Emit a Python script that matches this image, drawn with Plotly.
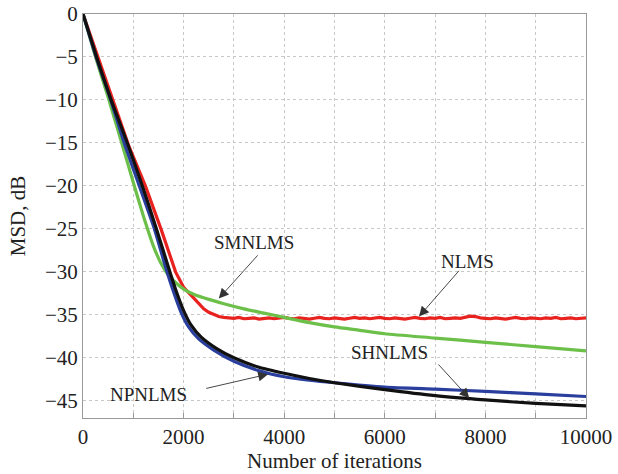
import plotly.graph_objects as go

# ---- data ----
nlms_x = [0, 300, 600, 920, 1240, 1550, 1840, 2000, 2180, 2300, 2400, 2500, 2600, 2700,
          2800, 2900, 3000, 3100, 3200, 3300, 3400, 3500, 3600, 3700, 3800, 3900,
          4000, 4100, 4200, 4300, 4400, 4500, 4600, 4700, 4800, 4900,
          5000, 5100, 5200, 5300, 5400, 5500, 5600, 5700, 5800, 5900,
          6000, 6100, 6200, 6300, 6400, 6500, 6600, 6700, 6800, 6900,
          7000, 7100, 7200, 7300, 7400, 7500, 7600, 7700, 7800, 7900,
          8000, 8100, 8200, 8300, 8400, 8500, 8600, 8700, 8800, 8900,
          9000, 9100, 9200, 9300, 9400, 9500, 9600, 9700, 9800, 9900, 10000]
nlms_y = [0, -5, -10, -15.5, -20, -25, -30, -31.8, -32.9, -33.7, -34.3, -34.7, -35.0, -35.2,
          -35.3, -35.35, -35.4, -35.3, -35.45, -35.4, -35.35, -35.5, -35.4, -35.35, -35.45, -35.4,
          -35.3, -35.4, -35.45, -35.35, -35.4, -35.5, -35.4, -35.3, -35.4, -35.45,
          -35.35, -35.4, -35.5, -35.4, -35.3, -35.4, -35.35, -35.45, -35.4, -35.3,
          -35.4, -35.45, -35.35, -35.4, -35.5, -35.4, -35.3, -35.4, -35.45, -35.35,
          -35.4, -35.3, -35.45, -35.4, -35.35, -35.4, -35.25, -35.15, -35.2, -35.35,
          -35.4, -35.45, -35.35, -35.4, -35.5, -35.4, -35.3, -35.4, -35.45, -35.35,
          -35.4, -35.45, -35.35, -35.4, -35.3, -35.45, -35.4, -35.35, -35.45, -35.4, -35.35]

smnlms_x = [0, 250, 500, 750, 1000, 1200, 1400, 1550, 1700, 1850, 2000, 2200, 2500,
            2800, 3200, 3600, 4000, 4500, 5000, 5500, 6000, 7000, 8000, 9000, 10000]
smnlms_y = [0, -5, -9.7, -14.6, -19.6, -23.5, -27.0, -29.0, -30.4, -31.3, -32.0, -32.6, -33.2,
            -33.7, -34.3, -34.8, -35.3, -35.9, -36.4, -36.8, -37.2, -37.7, -38.2, -38.7, -39.2]

npnlms_x = [0, 260, 550, 820, 1120, 1420, 1650, 1800, 1950, 2100, 2300, 2600, 3000,
            3500, 4000, 4500, 5000, 6000, 7000, 8000, 9000, 10000]
npnlms_y = [0, -5, -10, -15, -20, -25, -29.6, -32.3, -34.7, -36.4, -37.8, -39.1, -40.4,
            -41.5, -42.2, -42.6, -42.9, -43.4, -43.65, -43.9, -44.2, -44.5]

shnlms_x = [0, 270, 560, 880, 1180, 1460, 1700, 1850, 2000, 2150, 2350, 2650, 3000,
            3500, 4000, 4500, 5000, 6000, 7000, 8000, 9000, 10000]
shnlms_y = [0, -5, -10, -15, -20, -25, -29.5, -32.2, -34.5, -36.2, -37.6, -38.9, -40.0,
            -41.1, -41.8, -42.4, -42.9, -43.7, -44.4, -44.9, -45.3, -45.6]

x_ticks = [0, 2000, 4000, 6000, 8000, 10000]
y_ticks = [0, -5, -10, -15, -20, -25, -30, -35, -40, -45]

FONT = "Liberation Serif, Times New Roman, serif"

fig = go.Figure()
series = [
    ("NLMS", nlms_x, nlms_y, "#e8221f", "linear"),
    ("SMNLMS", smnlms_x, smnlms_y, "#6cc04a", "spline"),
    ("NPNLMS", npnlms_x, npnlms_y, "#2a3f9d", "spline"),
    ("SHNLMS", shnlms_x, shnlms_y, "#111111", "spline"),
]
for name, xs, ys, col, shp in series:
    line = dict(color=col, width=3.2, shape=shp)
    if shp == "spline":
        line["smoothing"] = 0.6
    fig.add_trace(go.Scatter(x=xs, y=ys, mode="lines", name=name, line=line))

# labels + arrows (text position, arrow tail, arrow tip)
labels = [
    ("SMNLMS", 3400, -26.6, 3500, -27.9, 2700, -33.1),
    ("NLMS", 7640, -28.8, 7500, -29.7, 6680, -35.2),
    ("SHNLMS", 6100, -39.4, 7040, -40.6, 7680, -44.7),
    ("NPNLMS", 1300, -44.3, 2420, -43.6, 3680, -41.9),
]
for txt, tx, ty, ax, ay, hx, hy in labels:
    fig.add_annotation(x=tx, y=ty, text=txt, showarrow=False,
                       font=dict(family=FONT, size=19, color="#222"))
    fig.add_annotation(x=hx, y=hy, ax=ax, ay=ay, axref="x", ayref="y",
                       text="", showarrow=True, arrowhead=2, arrowsize=2.2,
                       arrowwidth=0.9, arrowcolor="#333")

fig.update_layout(
    width=618, height=474,
    margin=dict(l=83, r=32, t=14, b=56, autoexpand=False),
    paper_bgcolor="white", plot_bgcolor="white",
    showlegend=False,
    font=dict(family=FONT, size=21, color="#222"),
)
fig.update_xaxes(
    range=[0, 10000], tickvals=x_ticks, ticktext=[str(v) for v in x_ticks],
    showgrid=True, gridcolor="#c8c8c8", griddash="dot", gridwidth=1,
    minor=dict(dtick=1000, showgrid=True, gridcolor="#c8c8c8", griddash="dot",
               ticks="inside", ticklen=5, tickcolor="#999"),
    ticks="inside", ticklen=5, tickcolor="#999",
    showline=True, linecolor="#999", linewidth=1, mirror=True,
    zeroline=False, automargin=False,
    title=dict(text="Number of iterations", font=dict(size=21), standoff=0),
    tickfont=dict(size=21),
)
fig.update_yaxes(
    range=[-47, 0], tickvals=y_ticks, ticktext=[("\u2212" + str(-v)) if v < 0 else "0" for v in y_ticks],
    showgrid=True, gridcolor="#c8c8c8", griddash="dot", gridwidth=1,
    ticks="",
    showline=True, linecolor="#999", linewidth=1, mirror=True,
    zeroline=False, automargin=False,
    title=dict(text="MSD, dB", font=dict(size=21), standoff=13),
    tickfont=dict(size=21),
)

fig.write_html("out.html", config={"displayModeBar": False},
               post_script="document.body.style.margin='0';document.body.style.overflow='hidden';")
